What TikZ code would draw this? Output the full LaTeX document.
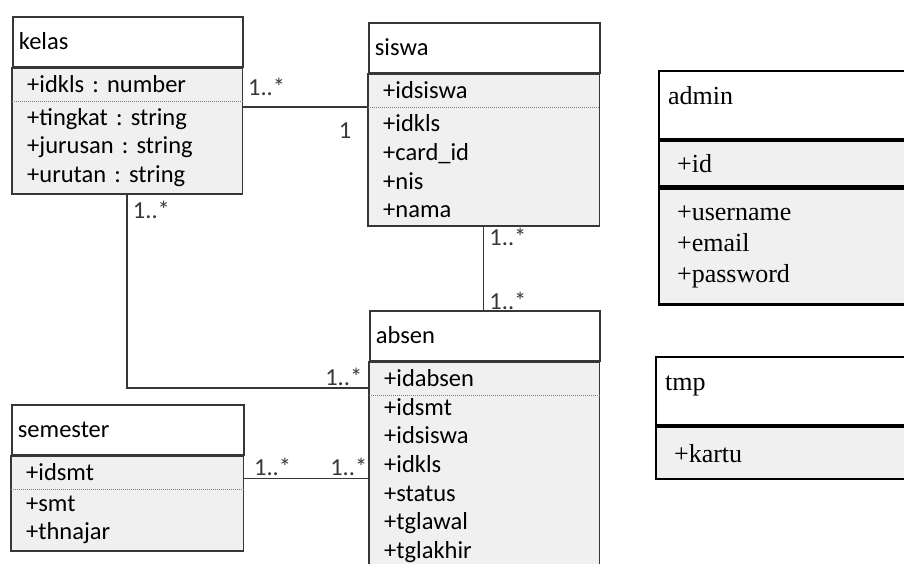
\documentclass[tikz,border=0pt]{standalone}
\usepackage{fontspec}
\setmainfont{Liberation Serif}
\newfontfamily\carlito{Carlito}
\usetikzlibrary{positioning}
\definecolor{umlgray}{RGB}{55,55,55}
\definecolor{umlfill}{RGB}{240,240,240}
\definecolor{sepgray}{RGB}{125,125,125}

\begin{document}
\begin{tikzpicture}[x=1pt, y=-1pt,
    calhead/.style={draw=umlgray, line width=1.8pt, fill=white, anchor=north west, align=left,
        inner xsep=6pt, inner ysep=0pt, text height=33pt, text depth=17pt,
        font=\carlito\fontsize{24.5}{29}\selectfont\frenchspacing},
    calrow/.style={fill=umlfill, anchor=north west, align=left, inner xsep=15pt, inner ysep=0pt,
        font=\carlito\fontsize{24.5}{28.6}\selectfont\frenchspacing},
    calbox/.style={draw=umlgray, line width=1.8pt},
    calsep/.style={draw=sepgray, densely dotted, line width=1pt},
    assoc/.style={draw=umlgray, line width=1.5pt},
    mult/.style={inner sep=0pt, font=\carlito\fontsize{24.5}{29}\selectfont, text=umlgray},
    serhead/.style={draw=black, line width=2.2pt, fill=white, anchor=north west, align=left,
        inner xsep=9pt, inner ysep=0pt, text height=33pt, text depth=35pt,
        font=\fontsize{26}{31}\selectfont},
    serrow/.style={draw=black, line width=2.2pt, fill=umlfill, anchor=north west, align=left,
        inner xsep=18pt, inner ysep=0pt, font=\fontsize{26}{31}\selectfont}
  ]
  \useasboundingbox (0,0) rectangle (904,564);
  \clip (0,0) rectangle (904,564);

  % kelas
  \node[calhead, text width=218pt] (kelas) at (12,16) {kelas};
  \node[calrow, text width=200pt, minimum height=33pt, below=0pt of kelas.south west, anchor=north west] (kelas-key) {+idkls : number};
  \node[calrow, text width=200pt, minimum height=92pt, below=0pt of kelas-key.south west, anchor=north west] (kelas-attr)
    {+tingkat : string\\+jurusan : string\\+urutan : string};

  % siswa
  \node[calhead, text width=219pt] (siswa) at (368,22) {siswa};
  \node[calrow, text width=201pt, minimum height=33pt, below=0pt of siswa.south west, anchor=north west] (siswa-key) {+idsiswa};
  \node[calrow, text width=201pt, minimum height=118pt, below=0pt of siswa-key.south west, anchor=north west] (siswa-attr)
    {+idkls\\+card\_id\\+nis\\+nama};

  % absen
  \node[calhead, text width=218pt] (absen) at (369,310) {absen};
  \node[calrow, text width=200pt, minimum height=33pt, below=0pt of absen.south west, anchor=north west] (absen-key) {+idabsen};
  \node[calrow, text width=200pt, minimum height=178pt, below=0pt of absen-key.south west, anchor=north west, yshift=4pt] (absen-attr)
    {+idsmt\\+idsiswa\\+idkls\\+status\\+tglawal\\+tglakhir};

  % semester
  \node[calhead, text width=220pt] (semester) at (11,404) {semester};
  \node[calrow, text width=202pt, minimum height=33pt, below=0pt of semester.south west, anchor=north west] (semester-key) {+idsmt};
  \node[calrow, text width=202pt, minimum height=61pt, below=0pt of semester-key.south west, anchor=north west] (semester-attr)
    {+smt\\+thnajar};

  % outlines of the left classes
  \foreach \cls in {kelas, siswa, absen, semester} {
    \draw[calbox] (\cls-key.north west) rectangle (\cls-attr.south east);
    \draw[calsep] (\cls-key.south west) -- (\cls-key.south east);
  }

  % admin
  \node[serhead, text width=282pt] (admin) at (658,70) {admin};
  \node[serrow, text width=264pt, minimum height=45pt, below=0pt of admin.south west, anchor=north west] (admin-key) {+id};
  \node[serrow, text width=264pt, minimum height=116pt, below=0pt of admin-key.south west, anchor=north west] (admin-attr)
    {+username\\+email\\+password};

  % tmp
  \node[serhead, text width=282pt] (tmp) at (655,356) {tmp};
  \node[serrow, text width=264pt, minimum height=52pt, below=0pt of tmp.south west, anchor=north west] (tmp-key) {+kartu};

  % Associations
  \draw[assoc] (kelas-attr.east |- siswa-key.south) -- (siswa-key.south west)
    node[mult, pos=0, anchor=base west, xshift=5pt, yshift=12pt] {1..*}
    node[mult, pos=1, anchor=base east, xshift=-16pt, yshift=-31pt] {1};
  \draw[assoc] (kelas-attr.south) |- ([yshift=-9.5pt]absen-key.west)
    node[mult, pos=0, anchor=base west, xshift=5pt, yshift=-25pt] {1..*}
    node[mult, pos=1, anchor=base east, xshift=-6pt, yshift=3pt] {1..*};
  \draw[assoc] (siswa-attr.south) -- (siswa-attr.south |- absen.north)
    node[mult, pos=0, anchor=base west, xshift=5pt, yshift=-20pt] {1..*}
    node[mult, pos=1, anchor=base west, xshift=5pt, yshift=1pt] {1..*};
  \draw[assoc] ([yshift=-6pt]semester-key.east) -- ([yshift=-6pt]semester-key.east -| absen-attr.west)
    node[mult, pos=0, anchor=base west, xshift=10pt, yshift=3pt] {1..*}
    node[mult, pos=1, anchor=base east, xshift=-1pt, yshift=3pt] {1..*};
\end{tikzpicture}
\end{document}
